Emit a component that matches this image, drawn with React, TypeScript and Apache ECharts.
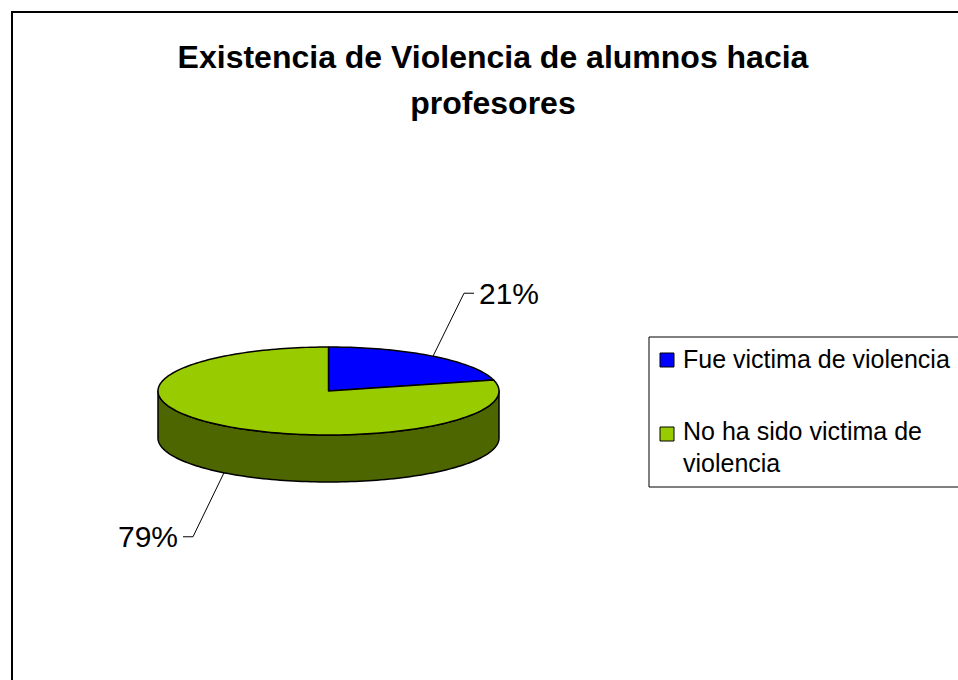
import React, { useEffect, useRef } from "react";
import * as echarts from "echarts";

const titleText = "Existencia de Violencia de alumnos hacia\nprofesores";
const categories = ["Fue victima de violencia", "No ha sido victima de violencia"];
const legendLabels = ["Fue victima de violencia", "No ha sido victima de\nviolencia"];
const values = [21, 79];
const topColors = ["#0000FF", "#99CC00"];
const sideColors = ["#00007F", "#4D6600"];

const FONT = "'Liberation Sans', Arial, Helvetica, sans-serif";

export default function App() {
  const ref = useRef<HTMLDivElement>(null);

  useEffect(() => {
    if (!ref.current) return;
    const chart = echarts.init(ref.current, undefined, { renderer: "svg" });

    const cx = 328.5;
    const cy = 391;
    const rx = 170.5;
    const ry = 44;
    const depth = 47;
    const total = values.reduce((a, b) => a + b, 0);

    const pt = (deg: number, dy = 0): number[] => {
      const r = (deg * Math.PI) / 180;
      return [cx + rx * Math.sin(r), cy - ry * Math.cos(r) + dy];
    };
    const arc = (from: number, to: number, dy = 0): number[][] => {
      const n = Math.max(2, Math.ceil((to - from) / 1.5));
      const out: number[][] = [];
      for (let k = 0; k <= n; k++) out.push(pt(from + ((to - from) * k) / n, dy));
      return out;
    };

    const renderItem = (params: any) => {
      const i = params.dataIndex;
      let before = 0;
      for (let k = 0; k < i; k++) before += values[k];
      const a0 = (before / total) * 360;
      const a1 = ((before + values[i]) / total) * 360;
      const children: any[] = [];

      const s0 = Math.max(a0, 90);
      const s1 = Math.min(a1, 270);
      if (s1 > s0) {
        const topPts = arc(s0, s1);
        const botPts = arc(s0, s1, depth).reverse();
        children.push({
          type: "polygon",
          z2: 1,
          shape: { points: [...topPts, ...botPts] },
          style: { fill: sideColors[i], stroke: "#000", lineWidth: 1.5, lineJoin: "round" },
        });
      }
      children.push({
        type: "polygon",
        z2: 5,
        shape: { points: [[cx, cy], ...arc(a0, a1)] },
        style: { fill: topColors[i], stroke: "#000", lineWidth: 1.5, lineJoin: "round" },
      });

      const mid = (a0 + a1) / 2;
      const mr = (mid * Math.PI) / 180;
      const sx = Math.sin(mr) >= 0 ? 1 : -1;
      const front = Math.cos(mr) < 0;
      const p0 = pt(mid, front ? depth : 0);
      const elbow = [p0[0] + sx * 31, p0[1] + (front ? 64 : -63)];
      const end = [elbow[0] + sx * 10, elbow[1]];
      children.push({
        type: "polyline",
        z2: 6,
        shape: { points: [p0, elbow, end] },
        style: { stroke: "#000", lineWidth: 1, fill: null },
      });
      children.push({
        type: "text",
        z2: 7,
        x: end[0] + sx * 5,
        y: end[1],
        style: {
          text: Math.round((values[i] / total) * 100) + "%",
          fontSize: 30,
          fontFamily: FONT,
          fill: "#000",
          align: sx > 0 ? "left" : "right",
          verticalAlign: "middle",
        },
      });
      return { type: "group", children };
    };

    const legendChildren: any[] = [
      {
        type: "rect",
        shape: { x: 649, y: 337, width: 400, height: 150 },
        style: { fill: "#fff", stroke: "#000", lineWidth: 1 },
      },
    ];
    const rowY = [343, 415];
    const markerY = [353, 427];
    legendLabels.forEach((label, i) => {
      legendChildren.push({
        type: "rect",
        shape: { x: 660, y: markerY[i], width: 14, height: 14 },
        style: { fill: topColors[i], stroke: "#000", lineWidth: 1 },
      });
      legendChildren.push({
        type: "text",
        x: 683,
        y: rowY[i],
        style: {
          text: label,
          fontSize: 25,
          fontFamily: FONT,
          fill: "#000",
          lineHeight: 32,
          align: "left",
          verticalAlign: "top",
        },
      });
    });

    chart.setOption({
      animation: false,
      backgroundColor: "#fff",
      title: {
        text: titleText,
        left: 493,
        top: 34,
        textAlign: "center",
        padding: 0,
        textStyle: {
          fontFamily: FONT,
          fontWeight: "bold",
          fontSize: 32,
          lineHeight: 46,
          color: "#000",
        },
      },
      graphic: [
        {
          type: "rect",
          shape: { x: 12, y: 12, width: 1200, height: 1000 },
          style: { fill: "none", stroke: "#000", lineWidth: 2 },
          silent: true,
          z: -1,
        },
        {
          type: "group",
          children: legendChildren,
          silent: true,
        },
      ],
      series: [
        {
          type: "custom",
          coordinateSystem: "none",
          silent: true,
          renderItem,
          data: values.map((v, i) => ({ name: categories[i], value: v })),
        },
      ],
    });

    return () => chart.dispose();
  }, []);

  return (
    <div
      ref={ref}
      style={{ position: "fixed", left: 0, top: 0, width: 958, height: 680 }}
    />
  );
}
